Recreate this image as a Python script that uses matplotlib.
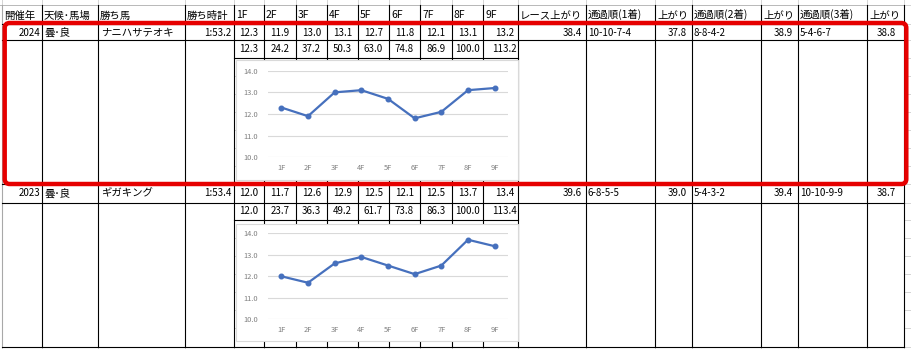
import matplotlib
matplotlib.use('Agg')
import matplotlib.pyplot as plt
from matplotlib.patches import Rectangle, FancyBboxPatch

plt.rcParams['font.family'] = ['Noto Sans CJK JP', 'DejaVu Sans']

# --- data ---
headers = ['開催年', '天候･馬場', '勝ち馬', '勝ち時計',
           '1F', '2F', '3F', '4F', '5F', '6F', '7F', '8F', '9F',
           'レース上がり', '通過順(1着)', '上がり', '通過順(2着)', '上がり',
           '通過順(3着)', '上がり']
furlongs = ['1F', '2F', '3F', '4F', '5F', '6F', '7F', '8F', '9F']
years = ['2024', '2023']
conditions = ['曇･良', '曇･良']
winners = ['ナニハサテオキ', 'ギガキング']
win_times = ['1:53.2', '1:53.4']
laps_2024 = [12.3, 11.9, 13.0, 13.1, 12.7, 11.8, 12.1, 13.1, 13.2]
laps_2023 = [12.0, 11.7, 12.6, 12.9, 12.5, 12.1, 12.5, 13.7, 13.4]
cum_2024 = [12.3, 24.2, 37.2, 50.3, 63.0, 74.8, 86.9, 100.0, 113.2]
cum_2023 = [12.0, 23.7, 36.3, 49.2, 61.7, 73.8, 86.3, 100.0, 113.4]
race_last = ['38.4', '39.6']
pass_1st = ['10-10-7-4', '6-8-5-5']
last_1st = ['37.8', '39.0']
pass_2nd = ['8-8-4-2', '5-4-3-2']
last_2nd = ['38.9', '39.4']
pass_3rd = ['5-4-6-7', '10-10-9-9']
last_3rd = ['38.8', '38.7']

W, H = 911, 349
fig = plt.figure(figsize=(W / 100, H / 100), dpi=100)
ax = fig.add_axes([0, 0, 1, 1])
ax.set_xlim(0, W)
ax.set_ylim(H, 0)
ax.axis('off')

cols = [2, 42, 98, 185, 234, 264, 296, 327, 358, 389, 420, 452, 483, 518,
        586, 655, 692, 761, 798, 867, 904]
rows = [5, 24, 40, 58, 76, 94, 112, 130, 148, 166, 184, 203, 220, 238, 256,
        274, 292, 310, 328, 347]
faint = '#d4d4d4'

# faint sheet grid
for x in cols:
    ax.plot([x, x], [0, H], color=faint, lw=0.7, zorder=1)
for y in rows:
    ax.plot([234, 518], [y, y], color=faint, lw=0.7, zorder=1)
    ax.plot([904, W], [y, y], color=faint, lw=0.7, zorder=1)
ax.plot([0, 904], [5, 5], color='#b8b8b8', lw=0.7, zorder=1)

# black cell borders
for x in cols[1:]:
    ax.plot([x, x], [5, 347], color='black', lw=0.8, zorder=2)
ax.plot([2, 2], [5, 347], color='#a8a8a8', lw=0.8, zorder=2)
for y in [24, 40, 184, 203, 347]:
    ax.plot([2, 904], [y, y], color='black', lw=0.8, zorder=2)
for y in [58, 220]:
    ax.plot([234, 518], [y, y], color='black', lw=0.8, zorder=2)

jp = dict(fontsize=7.5, va='center', zorder=5)
num = dict(fontsize=7, va='center', zorder=5,
           family=['Liberation Sans Narrow', 'Noto Sans CJK JP'])

# header row
for i, h in enumerate(headers):
    ax.text(cols[i] + 2, 15.5, h, ha='left', **jp)


def centre(i):
    return (cols[i] + cols[i + 1]) / 2


group_y = [(32.5, 49.5), (193.5, 211.5)]
laps = [laps_2024, laps_2023]
cums = [cum_2024, cum_2023]
for g in range(2):
    y1, y2 = group_y[g]
    ax.text(cols[1] - 2, y1, years[g], ha='right', **num)
    ax.text(cols[1] + 2, y1, conditions[g], ha='left', **jp)
    ax.text(cols[2] + 3, y1, winners[g], ha='left', **jp)
    ax.text(cols[4] - 3, y1, win_times[g], ha='right', **num)
    for k in range(9):
        cx = centre(4 + k) + (4 if k == 8 else 0)
        ax.text(cx, y1, f'{laps[g][k]:.1f}', ha='center', **num)
        ax.text(cx, y2, f'{cums[g][k]:.1f}', ha='center', **num)
    ax.text(cols[14] - 4, y1, race_last[g], ha='right', **num)
    ax.text(cols[14] + 2, y1, pass_1st[g], ha='left', **num)
    ax.text(cols[16] - 5, y1, last_1st[g], ha='right', **num)
    ax.text(cols[16] + 2, y1, pass_2nd[g], ha='left', **num)
    ax.text(cols[18] - 5, y1, last_2nd[g], ha='right', **num)
    ax.text(cols[18] + 2, y1, pass_3rd[g], ha='left', **num)
    ax.text(cols[20] - 8, y1, last_3rd[g], ha='right', **num)

# chart frames
chart_boxes = [(235.5, 60, 282, 119.5), (236, 223.5, 281.5, 117.5)]
for (x0, y0, w, h) in chart_boxes:
    ax.add_patch(Rectangle((x0, y0), w, h, facecolor='white',
                           edgecolor='#d9d9d9', lw=0.8, zorder=3))

# line charts
plot_areas = [(268, 70.7, 240, 86.6), (268, 233.3, 240, 86.0)]
for g, (px, py, pw, ph) in enumerate(plot_areas):
    cax = fig.add_axes([px / W, 1 - (py + ph) / H, pw / W, ph / H])
    cax.set_facecolor('none')
    xs = range(len(furlongs))
    cax.plot(xs, laps[g], color='#4670bd', lw=1.6, marker='o', ms=3.3,
             zorder=3)
    cax.set_xlim(-0.5, 8.5)
    cax.set_ylim(10, 14)
    cax.set_yticks([10, 11, 12, 13, 14])
    cax.set_yticklabels(['10.0', '11.0', '12.0', '13.0', '14.0'])
    cax.set_xticks(list(xs))
    cax.set_xticklabels(furlongs)
    cax.grid(axis='y', color='#d9d9d9', lw=0.8, zorder=0)
    cax.set_axisbelow(True)
    for s in cax.spines.values():
        s.set_visible(False)
    cax.tick_params(length=0, labelsize=5.4, labelcolor='#7f7f7f')
    cax.tick_params(axis='x', pad=5.0)
    cax.tick_params(axis='y', pad=7)

# red highlight box
ax.add_patch(FancyBboxPatch((4.7, 23), 901.6, 161,
                            boxstyle='round,pad=0,rounding_size=5',
                            facecolor='none', edgecolor='#e60000',
                            lw=3.2, zorder=6))

fig.savefig('out.png', dpi=100)
